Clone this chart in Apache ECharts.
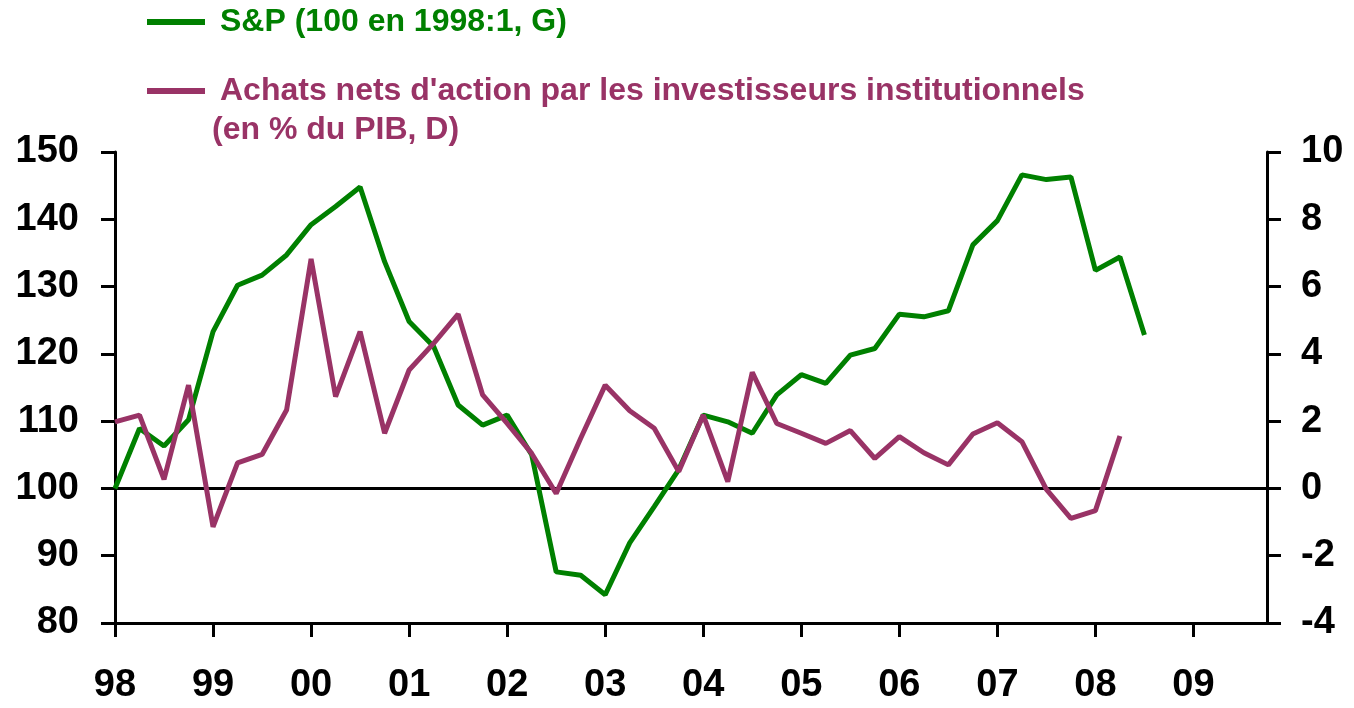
<!DOCTYPE html>
<html>
<head>
<meta charset="utf-8">
<script src="https://cdn.jsdelivr.net/npm/echarts@6/dist/echarts.min.js"></script>
<style>
html,body{margin:0;padding:0;background:#fff;}
#chart{width:1354px;height:708px;}
</style>
</head>
<body>
<div id="chart"></div>
<script>
// Quarterly data starting 1998:Q1 (index 0 = 1998:1)
var yearLabels = ['98','99','00','01','02','03','04','05','06','07','08','09'];
var spName = 'S&P (100 en 1998:1, G)';
var achatsName = "Achats nets d'action par les investisseurs institutionnels";
var achatsName2 = '(en % du PIB, D)';
var spValues = [
  100, 108.9, 106.3, 110.2, 123.3, 130.2, 131.7, 134.7,
  139.2, 141.9, 144.8, 133.7, 124.8, 121.1, 112.4, 109.4,
  110.9, 105.0, 87.6, 87.1, 84.2, 91.9, 97.3, 102.8,
  110.9, 109.9, 108.2, 113.9, 116.9, 115.6, 119.8, 120.8,
  125.9, 125.5, 126.4, 136.2, 139.8, 146.6, 145.9, 146.3,
  132.4, 134.4, 122.8
];
var achatsValues = [
  1.98, 2.18, 0.27, 3.07, -1.14, 0.76, 1.01, 2.33,
  6.82, 2.73, 4.66, 1.64, 3.52, 4.31, 5.18, 2.78,
  1.93, 1.04, -0.15, 1.49, 3.07, 2.31, 1.79, 0.50,
  2.18, 0.20, 3.45, 1.93, 1.64, 1.34, 1.72, 0.89,
  1.54, 1.06, 0.70, 1.62, 1.95, 1.39, -0.03, -0.89,
  -0.66, 1.56
];

function toPairs(arr){ return arr.map(function(v,i){ return [i, v]; }); }
var yearTickValues = yearLabels.map(function(_, k){ return k * 4; });

var FONT = '"Liberation Sans", Arial, sans-serif';
var GREEN = '#008000';
var PURPLE = '#993366';

var chart = echarts.init(document.getElementById('chart'));
chart.setOption({
  animation: false,
  backgroundColor: '#ffffff',
  grid: { left: 115, right: 87, top: 152, bottom: 85, containLabel: false },
  legend: [
    {
      data: [{ name: spName, textStyle: { color: GREEN } }],
      left: 147, top: 6, padding: 0,
      icon: 'rect', itemWidth: 58, itemHeight: 6,
      textStyle: { fontFamily: FONT, fontWeight: 'bold', fontSize: 32, padding: [0,0,0,10] },
      selectedMode: false
    },
    {
      data: [{ name: achatsName, textStyle: { color: PURPLE } }],
      left: 147, top: 75, padding: 0,
      icon: 'rect', itemWidth: 58, itemHeight: 6,
      textStyle: { fontFamily: FONT, fontWeight: 'bold', fontSize: 32, padding: [0,0,0,10] },
      selectedMode: false
    }
  ],
  graphic: [
    {
      type: 'text', left: 212, top: 114,
      style: { text: achatsName2, fill: PURPLE, font: 'bold 32px ' + FONT }
    }
  ],
  xAxis: {
    type: 'value', min: 0, max: 47, interval: 4,
    splitLine: { show: false },
    axisLine: { onZero: false, lineStyle: { color: '#000', width: 3 } },
    axisTick: { customValues: yearTickValues, lineStyle: { color: '#000', width: 3 }, length: 14 },
    axisLabel: {
      customValues: yearTickValues,
      margin: 44, color: '#000', fontFamily: FONT, fontWeight: 'bold', fontSize: 38,
      formatter: function(v){ return (v % 4 === 0 && v/4 < yearLabels.length) ? yearLabels[v/4] : ''; }
    }
  },
  yAxis: [
    {
      type: 'value', min: 80, max: 150, interval: 10, position: 'left',
      splitLine: { show: false },
      axisLine: { show: true, onZero: false, lineStyle: { color: '#000', width: 3 } },
      axisTick: { show: true, lineStyle: { color: '#000', width: 3 }, length: 14 },
      axisLabel: { margin: 36, color: '#000', fontFamily: FONT, fontWeight: 'bold', fontSize: 38 }
    },
    {
      type: 'value', min: -4, max: 10, interval: 2, position: 'right',
      splitLine: { show: false },
      axisLine: { show: true, onZero: false, lineStyle: { color: '#000', width: 3 } },
      axisTick: { show: true, lineStyle: { color: '#000', width: 3 }, length: 14 },
      axisLabel: { margin: 34, color: '#000', fontFamily: FONT, fontWeight: 'bold', fontSize: 38 }
    }
  ],
  series: [
    {
      name: spName, type: 'line', yAxisIndex: 0, data: toPairs(spValues),
      showSymbol: false, symbol: 'none',
      lineStyle: { color: GREEN, width: 5 }, itemStyle: { color: GREEN },
      z: 3
    },
    {
      name: achatsName, type: 'line', yAxisIndex: 1, data: toPairs(achatsValues),
      showSymbol: false, symbol: 'none',
      lineStyle: { color: PURPLE, width: 5 }, itemStyle: { color: PURPLE },
      z: 4,
      markLine: {
        silent: true, symbol: 'none', label: { show: false },
        lineStyle: { color: '#000', width: 3, type: 'solid' },
        data: [{ yAxis: 0 }],
        z: 2
      }
    }
  ]
});
</script>
</body>
</html>
